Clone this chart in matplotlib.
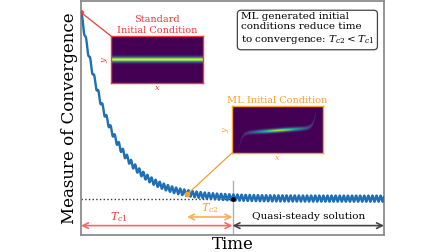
import numpy as np
import matplotlib
matplotlib.use("Agg")
import matplotlib.pyplot as plt
from matplotlib.patches import ConnectionPatch

plt.rcParams['font.family'] = 'DejaVu Serif'
plt.rcParams['mathtext.fontset'] = 'dejavuserif'

# values (time in arbitrary units, measure normalised 0..1)
t_end = 10.0
y_start = 0.949
y_steady = 0.155
decay_time = 1.0
ripple_amp = 0.013
ripple_period = 0.135

t_ml = 3.5          # where the ML initial condition joins the curve
t_converged = 5.0   # start of the quasi-steady part

span_labels = ['$T_{c1}$', '$T_{c2}$', 'Quasi-steady solution']
span_starts = [0.0, t_ml, t_converged]
span_ends = [t_converged, t_converged, t_end]

note = 'ML generated initial\nconditions reduce time\nto convergence: $T_{c2} < T_{c1}$'

RED = '#f03a3a'
ORANGE = '#f5a030'
BLUE = '#1f6fb4'
GREY = '#8c8c8c'

t = np.linspace(0, t_end, 4000)
y = y_steady + (y_start - y_steady) * np.exp(-t / decay_time) \
    + ripple_amp * np.sin(2 * np.pi * t / ripple_period)

fig = plt.figure(figsize=(4.48, 2.52), dpi=100)
ax = fig.add_axes([81 / 448, 17 / 252, 303 / 448, 234.5 / 252])

ax.plot(t, y, color=BLUE, lw=1.7, zorder=3)
ax.set_xlim(0, t_end)
ax.set_ylim(0, 1)
ax.set_xticks([])
ax.set_yticks([])
for s in ax.spines.values():
    s.set_color(GREY)
    s.set_linewidth(1.3)
ax.set_xlabel('Time', fontsize=12, labelpad=1)
ax.set_ylabel('Measure of Convergence', fontsize=12, labelpad=2)

# steady level and convergence marker
ax.plot([0, t_converged], [y_steady, y_steady], ls=':', color='#333333', lw=1.0, zorder=2)
ax.plot([t_converged, t_converged], [0, 0.23], color='#b0b0b0', lw=1.0, zorder=1)
ax.plot(t_converged, y_steady, 'o', color='black', ms=2.5, zorder=4)

y_ml = y_steady + (y_start - y_steady) * np.exp(-t_ml / decay_time) \
    + ripple_amp * np.sin(2 * np.pi * t_ml / ripple_period)
ax.plot(0, y_start, 'o', color=RED, ms=2.5, zorder=4)
ax.plot(t_ml, y_ml, 'o', color=ORANGE, ms=3, zorder=4)

# time spans
span_y = [0.04, 0.077, 0.04]
text_y = [0.077, 0.116, 0.078]
text_x = [1.25, (t_ml + t_converged) / 2, (t_converged + t_end) / 2]
span_col = ['#f46a6a', '#f7b057', '#444444']
text_col = [RED, ORANGE, 'black']
text_size = [8, 8, 7.5]
for lab, a, b, yy, ty, tx, c, tc, fs in zip(span_labels, span_starts, span_ends,
                                             span_y, text_y, text_x, span_col,
                                             text_col, text_size):
    ax.annotate('', xy=(a, yy), xytext=(b, yy),
                arrowprops=dict(arrowstyle='<->', color=c, lw=1.2,
                                shrinkA=0, shrinkB=0))
    ax.text(tx, ty, lab, color=tc, fontsize=fs, ha='center', va='center')

# note box
fig.text(241 / 448, 1 - 29 / 252, note, fontsize=7.5, ha='left', va='center',
         linespacing=1.2,
         bbox=dict(boxstyle='round,pad=0.35', fc='white', ec='#444444', lw=0.9))

# inset: standard initial condition
ins1 = fig.add_axes([111 / 448, 1 - 83 / 252, 92 / 448, 47 / 252])
gx = np.linspace(0, 1, 200)
gy = np.linspace(0, 1, 235)
X, Y = np.meshgrid(gx, gy)
band = np.exp(-((Y - 0.5) / 0.05) ** 2)
ins1.imshow(band, cmap='viridis', origin='lower', aspect='auto',
            extent=[0, 1, 0, 1])
ins1.set_title('Standard\nInitial Condition', color=RED, fontsize=7, pad=2,
               linespacing=1.25)
ins1.set_xlabel('$x$', color=RED, fontsize=6, labelpad=1)
ins1.set_ylabel('$y$', color=RED, fontsize=6, labelpad=1)

# inset: ML initial condition
ins2 = fig.add_axes([232 / 448, 1 - 153 / 252, 91 / 448, 47 / 252])
gy2 = np.linspace(0, 1, 160)
X2, Y2 = np.meshgrid(np.linspace(0, 1, 300), gy2)
u = (X2 - 0.5) / 0.42
yc = 0.48 + 0.06 * u + 0.3 * u ** 15
amp = np.exp(-((X2 - 0.52) / 0.28) ** 2) * (np.abs(u) <= 1.0)
kink = amp * np.exp(-((Y2 - yc) / 0.035) ** 2)
ins2.imshow(kink, cmap='viridis', origin='lower', aspect='auto',
            extent=[0, 1, 0, 1], vmin=0, vmax=1.1)
ins2.set_title('ML Initial Condition', color=ORANGE, fontsize=7, pad=2)
ins2.set_xlabel('$x$', color=ORANGE, fontsize=6, labelpad=1)
ins2.set_ylabel('$y$', color=ORANGE, fontsize=6, labelpad=1)

for ins, c in [(ins1, RED), (ins2, ORANGE)]:
    ins.set_xticks([])
    ins.set_yticks([])
    for s in ins.spines.values():
        s.set_color(c)
        s.set_linewidth(1.0)

# connectors from the curve to the insets
for ins, pt, c in [(ins1, (0, y_start), RED), (ins2, (t_ml, y_ml), ORANGE)]:
    con = ConnectionPatch(xyA=pt, coordsA=ax.transData, xyB=(0, 1 if ins is ins1 else 0),
                          coordsB=ins.transAxes, color=c, lw=0.9)
    fig.add_artist(con)

fig.savefig('out.png', dpi=100)
